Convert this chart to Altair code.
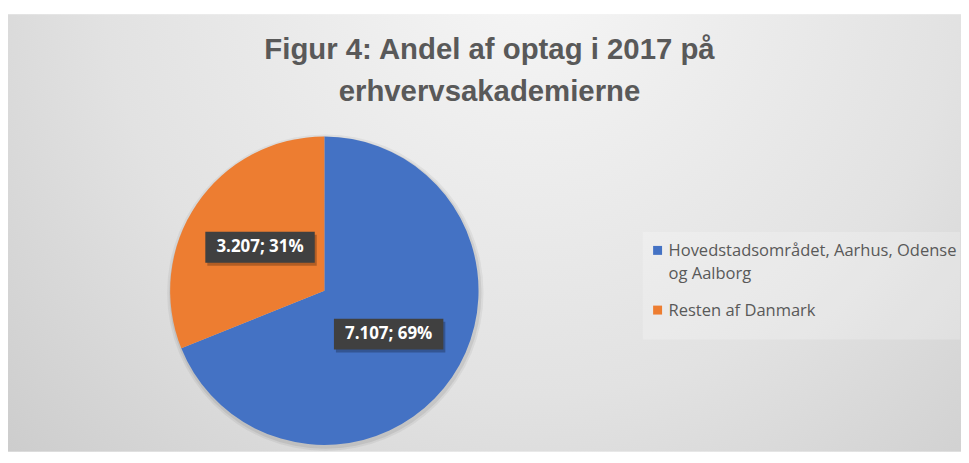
import altair as alt
import pandas as pd

# ---- data ----
categories = ["Hovedstadsområdet, Aarhus, Odense og Aalborg", "Resten af Danmark"]
values = [7107, 3207]
colors = ["#4472C4", "#ED7D31"]
legend_lines = [["Hovedstadsområdet, Aarhus, Odense", "og Aalborg"], ["Resten af Danmark"]]
title_lines = ["Figur 4: Andel af optag i 2017 på", "erhvervsakademierne"]

total = sum(values)
labels = [f"{v:,}".replace(",", ".") + f"; {round(v / total * 100)}%" for v in values]

df = pd.DataFrame({"cat": categories, "value": values, "order": list(range(len(values))), "label": labels})

leg_rows = []
for i, lines in enumerate(legend_lines):
    for j, t in enumerate(lines):
        leg_rows.append({"item": i, "line": j, "text": t, "cat": categories[i]})
leg_df = pd.DataFrame(leg_rows)
title_df = pd.DataFrame({"line": list(range(len(title_lines))), "text": title_lines})
one = pd.DataFrame({"a": [0]})

# ---- layout ----
W, H = 958, 445
CX, CY, R = 318, 283, 155
RL = 78
FONT = "Open Sans"
TFONT = "Liberation Sans"

color_scale = alt.Scale(domain=categories, range=colors)

bg = alt.Chart(one).mark_rect(
    fill=alt.RadialGradient(
        gradient="radial",
        x1=0.55, y1=0.22, r1=0.0,
        x2=0.55, y2=0.22, r2=0.9,
        stops=[alt.GradientStop(offset=0, color="#f6f6f6"),
               alt.GradientStop(offset=0.5, color="#e2e2e2"),
               alt.GradientStop(offset=1, color="#c2c2c2")],
    ),
    strokeWidth=0,
).encode(x=alt.value(-1), x2=alt.value(W), y=alt.value(5), y2=alt.value(H))

legbox = alt.Chart(one).mark_rect(fill="#ffffff", opacity=0.22, strokeWidth=0).encode(
    x=alt.value(638), x2=alt.value(957), y=alt.value(224), y2=alt.value(332)
)

shadow = alt.Chart(one).mark_arc(theta=0, theta2=6.2832, color="#000000").encode(
    x=alt.value(CX + 1), y=alt.value(CY + 2), radius=alt.value(R + 4), opacity=alt.value(0.05)
)
shadow2 = alt.Chart(one).mark_arc(theta=0, theta2=6.2832, color="#000000").encode(
    x=alt.value(CX + 1), y=alt.value(CY + 2), radius=alt.value(R + 2), opacity=alt.value(0.07)
)

pie = alt.Chart(df).mark_arc(outerRadius=R, strokeWidth=0).encode(
    theta=alt.Theta("value:Q", stack=True),
    color=alt.Color("cat:N", scale=color_scale, legend=None),
    order=alt.Order("order:Q"),
    x=alt.value(CX),
    y=alt.value(CY),
)

lab_base = alt.Chart(df).transform_window(
    cum="sum(value)", sort=[alt.SortField("order")]
).transform_joinaggregate(total="sum(value)").transform_calculate(
    mid="(datum.cum - datum.value/2) / datum.total * 2 * PI",
    lx=f"{CX} + {RL} * sin(datum.mid)",
    ly=f"{CY} - {RL} * cos(datum.mid)",
    sx=f"{CX} + {RL} * sin(datum.mid) + 2",
    sy=f"{CY} - {RL} * cos(datum.mid) + 3",
)

BOX = "M-1,-0.282L1,-0.282L1,0.282L-1,0.282Z"
box_shadow = lab_base.mark_point(shape=BOX, size=110 * 110, filled=True, color="#000000", opacity=0.25, strokeWidth=0).encode(
    x=alt.X("sx:Q", scale=None), y=alt.Y("sy:Q", scale=None)
)
box = lab_base.mark_point(shape=BOX, size=110 * 110, filled=True, color="#404040", opacity=1, strokeWidth=0).encode(
    x=alt.X("lx:Q", scale=None), y=alt.Y("ly:Q", scale=None)
)
lab_text = lab_base.mark_text(font=FONT, fontSize=17, fontWeight="bold", color="#ffffff", align="center", baseline="middle").encode(
    x=alt.X("lx:Q", scale=None), y=alt.Y("ly:Q", scale=None), text="label:N"
)

title = alt.Chart(title_df).transform_calculate(
    ty="50 + datum.line * 42"
).mark_text(font=TFONT, fontSize=29.5, fontWeight="bold", color="#595959", align="center", baseline="alphabetic").encode(
    x=alt.value(484), y=alt.Y("ty:Q", scale=None), text="text:N"
)

leg_sq = alt.Chart(df).transform_calculate(
    sy="242.5 + datum.order * 60"
).mark_square(size=81, filled=True, opacity=1).encode(
    x=alt.value(653), y=alt.Y("sy:Q", scale=None),
    color=alt.Color("cat:N", scale=color_scale, legend=None),
)
leg_txt = alt.Chart(leg_df).transform_calculate(
    ty="243 + datum.item * 60 + datum.line * 23"
).mark_text(font=FONT, fontSize=16.6, color="#595959", align="left", baseline="middle").encode(
    x=alt.value(664), y=alt.Y("ty:Q", scale=None), text="text:N"
)

chart = alt.layer(
    bg, legbox, shadow, shadow2, pie, box_shadow, box, lab_text, title, leg_sq, leg_txt
).properties(
    width=W, height=H, autosize=alt.AutoSizeParams(type="none"), padding=0, background="#ffffff"
).configure_view(stroke=None)

chart.save("out.html", embed_options={"renderer": "svg", "actions": False})
